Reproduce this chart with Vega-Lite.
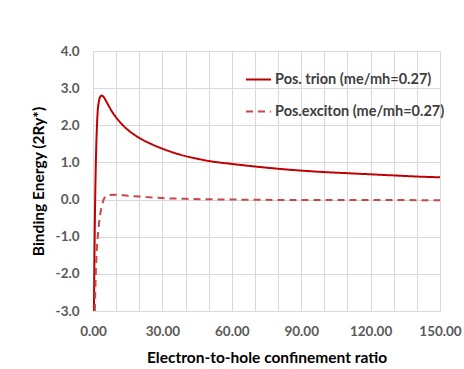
{
  "$schema": "https://vega.github.io/schema/vega-lite/v6.json",
  "autosize": {"type": "none"},
  "width": 347,
  "height": 260,
  "padding": {"left": 93, "top": 51, "right": 24, "bottom": 58},
  "background": "white",
  "config": {
    "font": "Lato",
    "view": {"stroke": null},
    "axis": {"gridColor": "#D9D9D9", "gridWidth": 1, "domain": false, "ticks": false, "labelColor": "#595959", "labelFont": "Lato", "labelFontWeight": "bold", "labelFontSize": 13.5, "titleFont": "Lato", "titleFontWeight": "bold", "titleFontSize": 15.5, "titleColor": "#000000"}
  },
  "data": {
    "values": [
      {"series": "Pos. trion (me/mh=0.27)", "x": 0.4, "y": -3.0},
      {"series": "Pos. trion (me/mh=0.27)", "x": 0.8, "y": -0.6},
      {"series": "Pos. trion (me/mh=0.27)", "x": 1.2, "y": 0.9},
      {"series": "Pos. trion (me/mh=0.27)", "x": 1.6, "y": 1.8},
      {"series": "Pos. trion (me/mh=0.27)", "x": 2.0, "y": 2.35},
      {"series": "Pos. trion (me/mh=0.27)", "x": 2.5, "y": 2.63},
      {"series": "Pos. trion (me/mh=0.27)", "x": 3.0, "y": 2.75},
      {"series": "Pos. trion (me/mh=0.27)", "x": 3.7, "y": 2.8},
      {"series": "Pos. trion (me/mh=0.27)", "x": 4.5, "y": 2.77},
      {"series": "Pos. trion (me/mh=0.27)", "x": 5.5, "y": 2.67},
      {"series": "Pos. trion (me/mh=0.27)", "x": 7.0, "y": 2.5},
      {"series": "Pos. trion (me/mh=0.27)", "x": 8.5, "y": 2.34},
      {"series": "Pos. trion (me/mh=0.27)", "x": 10, "y": 2.21},
      {"series": "Pos. trion (me/mh=0.27)", "x": 12, "y": 2.06},
      {"series": "Pos. trion (me/mh=0.27)", "x": 15, "y": 1.88},
      {"series": "Pos. trion (me/mh=0.27)", "x": 18, "y": 1.74},
      {"series": "Pos. trion (me/mh=0.27)", "x": 20, "y": 1.66},
      {"series": "Pos. trion (me/mh=0.27)", "x": 25, "y": 1.5},
      {"series": "Pos. trion (me/mh=0.27)", "x": 30, "y": 1.37},
      {"series": "Pos. trion (me/mh=0.27)", "x": 35, "y": 1.26},
      {"series": "Pos. trion (me/mh=0.27)", "x": 40, "y": 1.17},
      {"series": "Pos. trion (me/mh=0.27)", "x": 45, "y": 1.1},
      {"series": "Pos. trion (me/mh=0.27)", "x": 50, "y": 1.04},
      {"series": "Pos. trion (me/mh=0.27)", "x": 60, "y": 0.96},
      {"series": "Pos. trion (me/mh=0.27)", "x": 70, "y": 0.89},
      {"series": "Pos. trion (me/mh=0.27)", "x": 80, "y": 0.83},
      {"series": "Pos. trion (me/mh=0.27)", "x": 90, "y": 0.78},
      {"series": "Pos. trion (me/mh=0.27)", "x": 100, "y": 0.74},
      {"series": "Pos. trion (me/mh=0.27)", "x": 110, "y": 0.71},
      {"series": "Pos. trion (me/mh=0.27)", "x": 120, "y": 0.68},
      {"series": "Pos. trion (me/mh=0.27)", "x": 130, "y": 0.65},
      {"series": "Pos. trion (me/mh=0.27)", "x": 140, "y": 0.62},
      {"series": "Pos. trion (me/mh=0.27)", "x": 150, "y": 0.6},
      {"series": "Pos.exciton (me/mh=0.27)", "x": 0.8, "y": -3.0},
      {"series": "Pos.exciton (me/mh=0.27)", "x": 1.2, "y": -2.0},
      {"series": "Pos.exciton (me/mh=0.27)", "x": 1.6, "y": -1.4},
      {"series": "Pos.exciton (me/mh=0.27)", "x": 2.2, "y": -0.9},
      {"series": "Pos.exciton (me/mh=0.27)", "x": 3.0, "y": -0.45},
      {"series": "Pos.exciton (me/mh=0.27)", "x": 3.8, "y": -0.18},
      {"series": "Pos.exciton (me/mh=0.27)", "x": 5.0, "y": 0.05},
      {"series": "Pos.exciton (me/mh=0.27)", "x": 7.0, "y": 0.12},
      {"series": "Pos.exciton (me/mh=0.27)", "x": 10, "y": 0.13},
      {"series": "Pos.exciton (me/mh=0.27)", "x": 15, "y": 0.1},
      {"series": "Pos.exciton (me/mh=0.27)", "x": 20, "y": 0.08},
      {"series": "Pos.exciton (me/mh=0.27)", "x": 30, "y": 0.04},
      {"series": "Pos.exciton (me/mh=0.27)", "x": 40, "y": 0.02},
      {"series": "Pos.exciton (me/mh=0.27)", "x": 60, "y": 0.0},
      {"series": "Pos.exciton (me/mh=0.27)", "x": 90, "y": -0.01},
      {"series": "Pos.exciton (me/mh=0.27)", "x": 120, "y": -0.01},
      {"series": "Pos.exciton (me/mh=0.27)", "x": 150, "y": -0.02}
    ]
  },
  "mark": {"type": "line", "strokeWidth": 2, "interpolate": "monotone", "clip": true},
  "encoding": {
    "x": {
      "field": "x", "type": "quantitative",
      "scale": {"domain": [0, 150], "nice": false},
      "axis": {
        "title": "Electron-to-hole confinement ratio",
        "values": [0, 10, 20, 30, 40, 50, 60, 70, 80, 90, 100, 110, 120, 130, 140, 150],
        "labelExpr": "datum.value % 30 === 0 ? format(datum.value, '.2f') : ''",
        "labelPadding": 13,
        "titlePadding": 13,
        "labelFlush": false,
        "labelOverlap": false
      }
    },
    "y": {
      "field": "y", "type": "quantitative",
      "scale": {"domain": [-3, 4], "nice": false},
      "axis": {
        "title": "Binding Energy (2Ry*)",
        "values": [-3, -2, -1, 0, 1, 2, 3, 4],
        "labelExpr": "replace(format(datum.value, '.1f'), '\u2212', '-')",
        "labelPadding": 14,
        "titlePadding": 9
      }
    },
    "color": {
      "field": "series", "type": "nominal",
      "scale": {"range": ["#C00000", "#C9474A"]},
      "legend": {
        "title": null,
        "orient": "none",
        "legendX": 152,
        "legendY": 15,
        "symbolType": "stroke",
        "symbolSize": 625,
        "symbolStrokeWidth": 2,
        "labelFont": "Lato",
        "labelFontSize": 14.5,
        "labelColor": "#404040",
        "labelFontWeight": "bold",
        "labelLimit": 300,
        "rowPadding": 12,
        "labelOffset": 3
      }
    },
    "strokeDash": {
      "field": "series", "type": "nominal",
      "scale": {"range": [[1, 0], [7, 5]]},
      "legend": null
    }
  }
}
